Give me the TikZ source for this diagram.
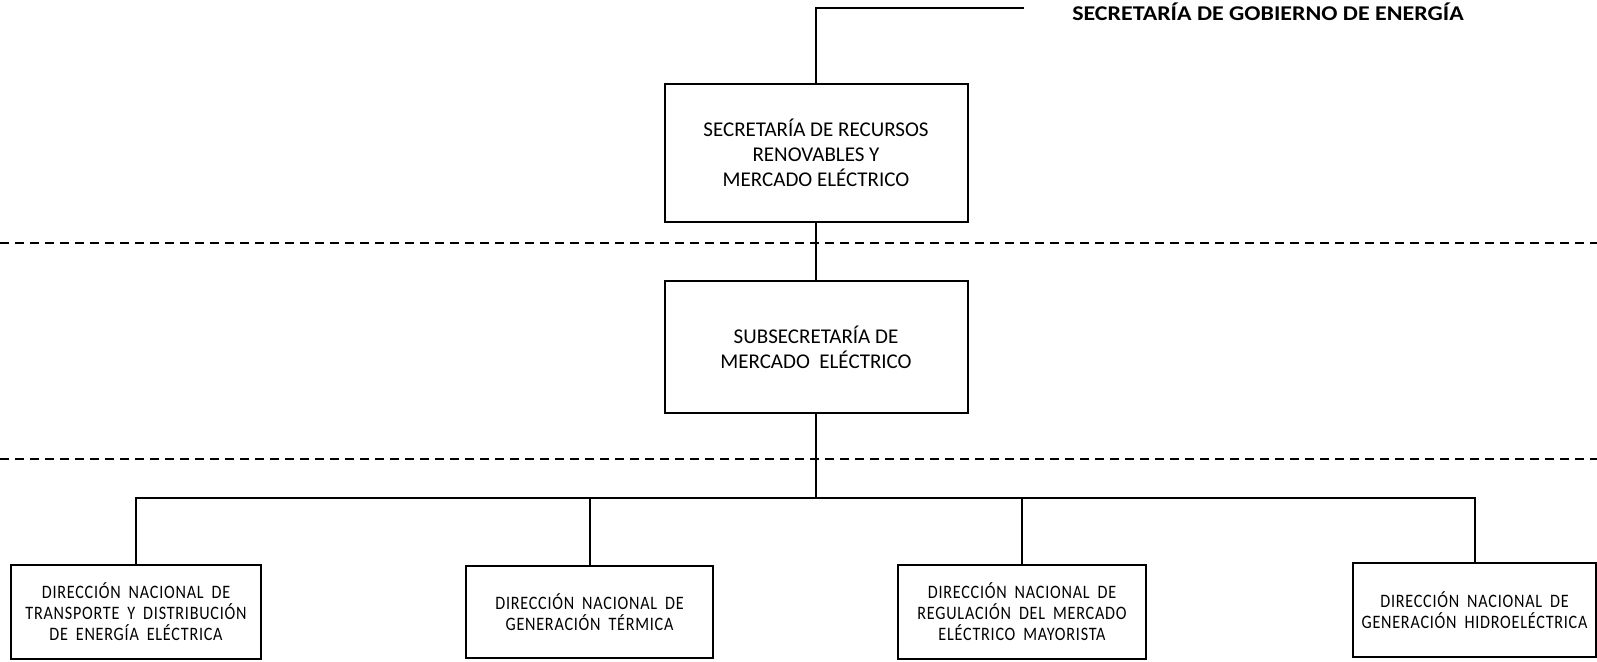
\documentclass[tikz,border=0pt]{standalone}
\usepackage{fontspec}
\setmainfont{Carlito}
\newfontfamily\boxfont{Carlito}
\newfontfamily\lowfont{Carlito}[FakeStretch=0.85,LetterSpace=4,WordSpace=1.8]
\newfontfamily\titlefont{Carlito}[FakeStretch=1.14]
\begin{document}
\begin{tikzpicture}[x=1pt,y=-1pt,
  line/.style={black,line width=2pt},
  dashline/.style={black,line width=1.5pt,dash pattern=on 9pt off 6pt},
  bigbox/.style={draw=black,line width=2pt,fill=white,inner sep=0pt,align=center,
    font=\boxfont\fontsize{21}{25}\selectfont},
  lowbox/.style={draw=black,line width=2pt,fill=white,inner sep=0pt,align=center,
    font=\lowfont\fontsize{19}{21}\selectfont},
  title/.style={inner sep=0pt,font=\titlefont\bfseries\fontsize{21}{25}\selectfont}]
\useasboundingbox (0,0) rectangle (1597,661);
% dashed separators
\coordinate (d1l) at (0,243);
\coordinate (d1r) at (1597,243);
\coordinate (d2l) at (0,459);
\coordinate (d2r) at (1597,459);
\draw[dashline] (d1l) -- (d1r);
\draw[dashline] (d2l) -- (d2r);
% nodes
\node[bigbox,minimum width=303pt,minimum height=138pt] (b1) at (816,153)
  {SECRETARÍA DE RECURSOS\\RENOVABLES Y\\MERCADO ELÉCTRICO};
\node[bigbox,minimum width=303pt,minimum height=132pt] (b2) at (816,347)
  {SUBSECRETARÍA DE\\MERCADO\ \ ELÉCTRICO};
\node[lowbox,minimum width=250pt,minimum height=94pt] (dA) at (136,612)
  {DIRECCIÓN NACIONAL DE\\TRANSPORTE Y DISTRIBUCIÓN\\DE ENERGÍA ELÉCTRICA};
\node[lowbox,minimum width=247pt,minimum height=92pt] (dB) at (589.5,612)
  {DIRECCIÓN NACIONAL DE\\GENERACIÓN TÉRMICA};
\node[lowbox,minimum width=248pt,minimum height=94pt] (dC) at (1022,612)
  {DIRECCIÓN NACIONAL DE\\REGULACIÓN DEL MERCADO\\ELÉCTRICO MAYORISTA};
\node[lowbox,minimum width=243pt,minimum height=94pt] (dD) at (1474.5,610)
  {DIRECCIÓN NACIONAL DE\\GENERACIÓN HIDROELÉCTRICA};
\node[title,anchor=center] (t) at (1268,11.5) {SECRETARÍA DE GOBIERNO DE ENERGÍA};
% connectors
\coordinate (tl) at (1024,8);
\coordinate (bus) at (816,498);
\draw[line] (b1.north) |- (tl);
\draw[line] (b1.south) -- (b2.north);
\draw[line] (b2.south) -- (bus);
\draw[line] (dA.north) |- (dD.north |- bus) -- (dD.north);
\draw[line] (dB.north) -- (dB.north |- bus);
\draw[line] (dC.north) -- (dC.north |- bus);
\end{tikzpicture}
\end{document}
